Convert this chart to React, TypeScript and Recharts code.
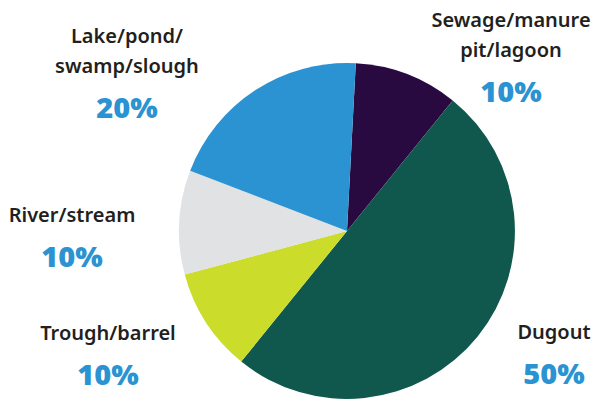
import React from "react";
import { PieChart, Pie, Cell } from "recharts";

const categories = ["Sewage/manure pit/lagoon", "Dugout", "Trough/barrel", "River/stream", "Lake/pond/swamp/slough"];
const labelLines = [["Sewage/manure", "pit/lagoon"], ["Dugout"], ["Trough/barrel"], ["River/stream"], ["Lake/pond/", "swamp/slough"]];
const values = [10, 50, 10, 10, 20];
const colors = ["#290a40", "#10574e", "#cbdc2a", "#e1e2e4", "#2b93d2"];

// label anchor layout (center x, baseline of first line)
const labelLayout = [
  { x: 511, y: 27 },
  { x: 554, y: 339 },
  { x: 108, y: 340 },
  { x: 72, y: 222 },
  { x: 127, y: 43 },
];

const data = categories.map((name, i) => ({ name, value: values[i] }));

const renderLabel = (props: any) => {
  const i = props.index;
  const pos = labelLayout[i];
  const lines = labelLines[i];
  const lh = 30;
  const pctY = pos.y + (lines.length - 1) * lh + 45;
  return (
    <g key={`lbl-${i}`}>
      {lines.map((l, j) => (
        <text
          key={j}
          x={pos.x}
          y={pos.y + j * lh}
          textAnchor="middle"
          fontFamily="'Noto Sans', sans-serif"
          fontWeight={600}
          fontSize={20}
          fill="#231f20"
        >
          {l}
        </text>
      ))}
      <text
        x={pos.x}
        y={pctY}
        textAnchor="middle"
        fontFamily="'Open Sans', sans-serif"
        fontWeight={800}
        fontSize={29}
        fill="#2b93d2"
      >
        {`${values[i]}%`}
      </text>
    </g>
  );
};

export default function App() {
  return (
    <div style={{ position: "absolute", left: 0, top: 0, width: 595, height: 400, background: "#fff" }}>
      <PieChart width={595} height={400} margin={{ top: 0, right: 0, bottom: 0, left: 0 }}>
        <Pie
          data={data}
          dataKey="value"
          nameKey="name"
          cx={347}
          cy={231}
          outerRadius={168}
          startAngle={87}
          endAngle={-273}
          stroke="none"
          label={renderLabel}
          labelLine={false}
          isAnimationActive={false}
        >
          {data.map((d, i) => (
            <Cell key={d.name} fill={colors[i]} />
          ))}
        </Pie>
      </PieChart>
    </div>
  );
}
